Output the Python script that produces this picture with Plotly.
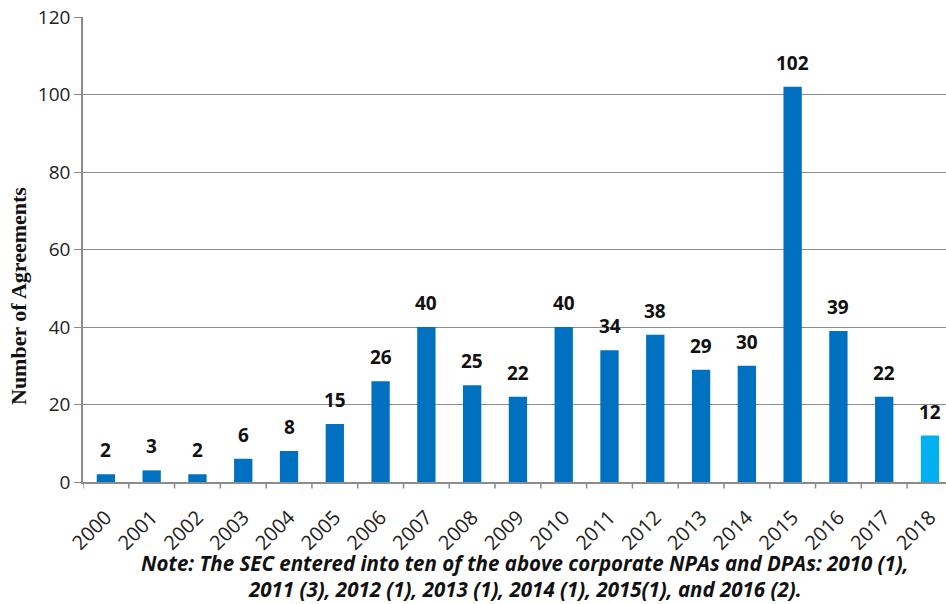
import plotly.graph_objects as go

years = ["2000","2001","2002","2003","2004","2005","2006","2007","2008","2009",
         "2010","2011","2012","2013","2014","2015","2016","2017","2018"]
agreements = [2,3,2,6,8,15,26,40,25,22,40,34,38,29,30,102,39,22,12]
bar_colors = ["#0070C0"]*18 + ["#00B0F0"]
y_ticks = [0,20,40,60,80,100,120]
y_title = "Number of Agreements"
note_lines = ["Note: The SEC entered into ten of the above corporate NPAs and DPAs: 2010 (1),",
              "2011 (3), 2012 (1), 2013 (1), 2014 (1), 2015(1), and 2016 (2)."]

xs = list(range(len(years)))
fig = go.Figure()
fig.add_trace(go.Bar(
    x=xs, y=agreements,
    marker=dict(color=bar_colors, line=dict(width=0)),
    width=0.4, hoverinfo="skip",
))

for xv, v in zip(xs, agreements):
    fig.add_annotation(x=xv, y=v, text="<b>%d</b>" % v, showarrow=False,
                       xanchor="center", yanchor="bottom", yshift=9,
                       font=dict(family="Open Sans", size=19, color="#111111"))

fig.update_layout(
    width=946, height=604,
    margin=dict(l=83, r=0, t=17, b=122),
    plot_bgcolor="white", paper_bgcolor="white",
    showlegend=False,
    font=dict(family="Open Sans", size=16, color="#222222"),
    xaxis=dict(
        tickmode="array", tickvals=xs, ticktext=years,
        tickangle=-45, range=[-0.5, 18.35], automargin=False,
        showgrid=False, showline=True, linecolor="#8c8c8c", linewidth=1.5,
        ticks="", tickfont=dict(size=20, family="Open Sans", color="#222222"),
        ticklabelstandoff=14,
    ),
    yaxis=dict(
        range=[0, 120], tickvals=y_ticks, showgrid=True, gridcolor="#8c8c8c",
        gridwidth=1, showline=True, linecolor="#8c8c8c", linewidth=1.5,
        ticks="outside", ticklen=7, tickcolor="#8c8c8c", zeroline=False,
        automargin=False,
        tickfont=dict(size=19, family="Open Sans", color="#222222"),
    ),
)

fig.add_annotation(text="<b>"+y_title+"</b>", xref="paper", yref="paper",
                   x=(18-83)/863, y=(482-296)/465, xanchor="center", yanchor="middle",
                   textangle=-90, showarrow=False,
                   font=dict(family="Liberation Serif", size=22, color="#111111"))

# boundary tick marks on x axis
for i in range(-1, len(years)):
    fig.add_shape(type="line", xref="x", yref="paper", x0=i+0.5, x1=i+0.5,
                  y0=0, y1=-0.014, line=dict(color="#8c8c8c", width=1.5))

for k, line in enumerate(note_lines):
    fig.add_annotation(text="<b><i>"+line+"</i></b>", xref="paper", yref="paper",
                       x=(525-83)/863, xanchor="center",
                       y=-(563-482)/465 - k*26/465, yanchor="middle",
                       showarrow=False, font=dict(family="Open Sans", size=20.5, color="#111111"))

fig.write_html("out.html", config={"displayModeBar": False},
               post_script="document.body.style.margin='0';document.body.style.overflow='hidden';")
